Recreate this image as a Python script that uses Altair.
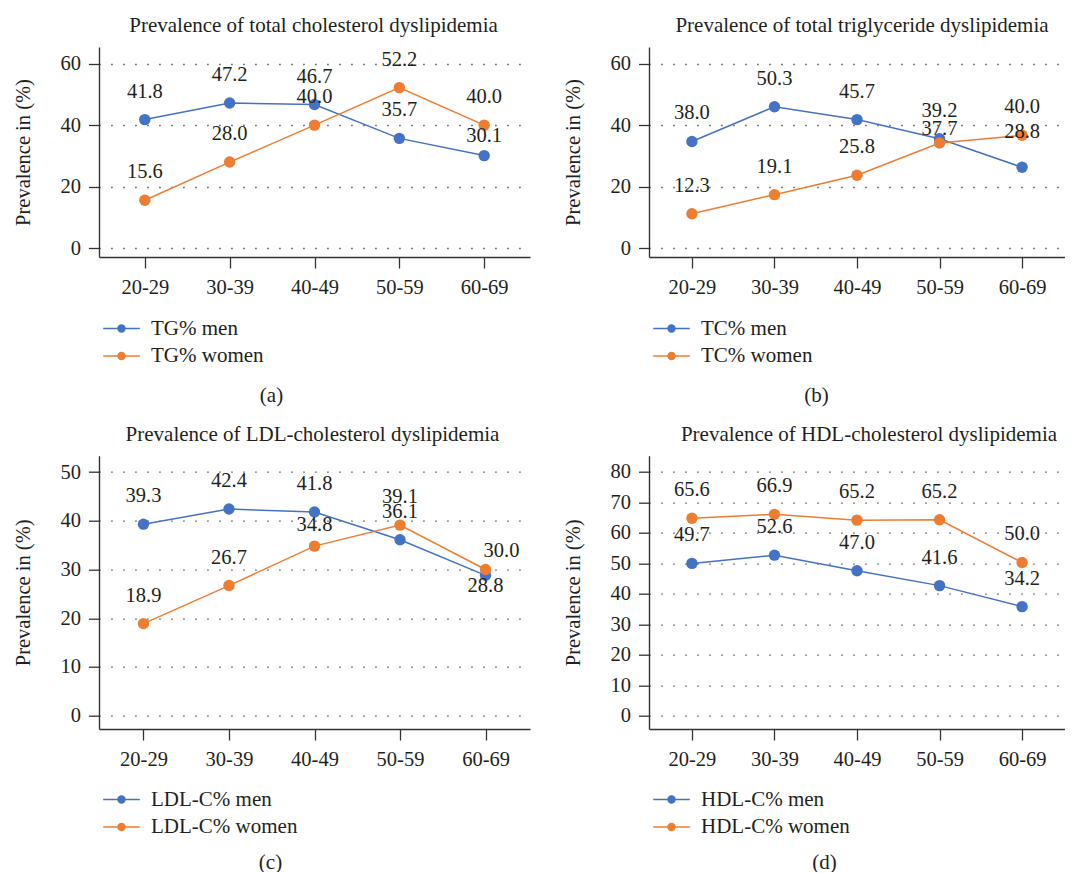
import altair as alt
import pandas as pd

# ---------------- data ----------------
AGES = ["20-29", "30-39", "40-49", "50-59", "60-69"]

TITLES = {
    "a": "Prevalence of total cholesterol dyslipidemia",
    "b": "Prevalence of total triglyceride dyslipidemia",
    "c": "Prevalence of LDL-cholesterol dyslipidemia",
    "d": "Prevalence of HDL-cholesterol dyslipidemia",
}
MEN_NAMES = {"a": "TG% men", "b": "TC% men", "c": "LDL-C% men", "d": "HDL-C% men"}
WOMEN_NAMES = {"a": "TG% women", "b": "TC% women", "c": "LDL-C% women", "d": "HDL-C% women"}
CAPTIONS = {"a": "(a)", "b": "(b)", "c": "(c)", "d": "(d)"}

# plotted values
a_men = [41.8, 47.2, 46.7, 35.7, 30.1]
a_women = [15.6, 28.0, 40.0, 52.2, 40.0]
b_men = [34.7, 46.0, 41.8, 35.6, 26.3]
b_women = [11.2, 17.4, 23.7, 34.2, 36.7]
c_men = [39.3, 42.4, 41.8, 36.1, 28.8]
c_women = [18.9, 26.7, 34.8, 39.1, 30.0]
d_men = [50.0, 52.7, 47.6, 42.7, 35.8]
d_women = [64.8, 66.1, 64.2, 64.3, 50.3]

# printed data labels
a_men_labels = ["41.8", "47.2", "46.7", "35.7", "30.1"]
a_women_labels = ["15.6", "28.0", "40.0", "52.2", "40.0"]
b_men_labels = ["38.0", "50.3", "45.7", "39.2", "28.8"]
b_women_labels = ["12.3", "19.1", "25.8", "37.7", "40.0"]
c_men_labels = ["39.3", "42.4", "41.8", "36.1", "28.8"]
c_women_labels = ["18.9", "26.7", "34.8", "39.1", "30.0"]
d_men_labels = ["49.7", "52.6", "47.0", "41.6", "34.2"]
d_women_labels = ["65.6", "66.9", "65.2", "65.2", "50.0"]

Y_TICKS = {
    "a": [0, 20, 40, 60],
    "b": [0, 20, 40, 60],
    "c": [0, 10, 20, 30, 40, 50],
    "d": [0, 10, 20, 30, 40, 50, 60, 70, 80],
}

SERIES = {
    "a": (a_men, a_women, a_men_labels, a_women_labels),
    "b": (b_men, b_women, b_men_labels, b_women_labels),
    "c": (c_men, c_women, c_men_labels, c_women_labels),
    "d": (d_men, d_women, d_men_labels, d_women_labels),
}

rows = []
for key, (men, women, ml, wl) in SERIES.items():
    for i, age in enumerate(AGES):
        rows.append(dict(panel=key, age=age, sex="men", series=MEN_NAMES[key],
                         value=men[i], label=ml[i], key=f"{key}|men|{age}"))
        rows.append(dict(panel=key, age=age, sex="women", series=WOMEN_NAMES[key],
                         value=women[i], label=wl[i], key=f"{key}|women|{age}"))
df = pd.DataFrame(rows)

# ---------------- style ----------------
SERIF = "Liberation Serif"
INK = "#231F20"
AXIS_INK = "#333333"
BLUE = "#4472C4"
ORANGE = "#ED7D31"
FS = 20.5
FS_T = 21

# geometry per panel (style only)
GEOM = {
    "a": dict(w=431, h=210, dom=[-2.86, 65.4], pad=0.54, cap=(172, 138), tdx=-1, ly=61),
    "b": dict(w=416, h=210, dom=[-2.86, 65.4], pad=0.52, cap=(167, 138), tdx=5, ly=61),
    "c": dict(w=431, h=273.3, dom=[-2.73, 53.35], pad=0.52, cap=(171, 133), tdx=-2, ly=60),
    "d": dict(w=416, h=273.3, dom=[-4.37, 85.35], pad=0.52, cap=(175, 133), tdx=12, ly=60),
}

# label nudges (dx, dy) for labels not placed straight above their point
NUDGE = {
    "a|men|60-69": (0, -20),
    "b|women|50-59": (0, -14),
    "b|men|60-69": (0, -35),
    "c|men|60-69": (0, 11),
    "c|women|60-69": (16, -18),
    "c|women|40-49": (0, -21),
}

# line + filled dot legend symbol (concentric rings fill the dot)
def ring(r):
    return f"M{r},0A{r},{r} 0 1,1 {-r},0A{r},{r} 0 1,1 {r},0"

SYMBOL = "M-2,0L2,0" + ring(0.38) + ring(0.25) + ring(0.12)


def panel(key):
    g = GEOM[key]
    d = df[df.panel == key]
    x = alt.X(
        "age:N", sort=AGES,
        scale=alt.Scale(type="point", padding=g["pad"]),
        axis=alt.Axis(
            title=CAPTIONS[key], titleX=g["cap"][0], titleY=g["cap"][1],
            titleBaseline="middle", titleAlign="center",
            titleFont=SERIF, titleFontSize=FS_T, titleFontWeight="normal", titleColor=INK,
            labelAngle=0, labelFont=SERIF, labelFontSize=FS, labelColor=INK,
            labelPadding=9, tickSize=11, tickColor=AXIS_INK, tickWidth=1.3,
            domainColor=AXIS_INK, domainWidth=1.4, grid=False,
        ),
    )
    y = alt.Y(
        "value:Q",
        scale=alt.Scale(domain=g["dom"], nice=False, zero=False),
        axis=alt.Axis(
            values=Y_TICKS[key], title="Prevalence in (%)",
            titleX=-76, titleY=g["h"] / 2, titleBaseline="middle", titleAlign="center",
            titleFont=SERIF, titleFontSize=FS, titleFontWeight="normal", titleColor=INK,
            labelFont=SERIF, labelFontSize=FS, labelColor=INK, labelPadding=8,
            tickSize=10.5, tickColor=AXIS_INK, tickWidth=1.3,
            domainColor=AXIS_INK, domainWidth=1.4,
            grid=True, gridColor="#555555", gridDash=[1.5, 10.5], gridDashOffset=0.3,
            gridWidth=1.3,
        ),
    )
    color = alt.Color(
        "series:N",
        scale=alt.Scale(domain=[MEN_NAMES[key], WOMEN_NAMES[key]], range=[BLUE, ORANGE]),
        legend=alt.Legend(
            title=None, orient="none", legendX=12, legendY=g["h"] + g["ly"],
            direction="vertical", symbolType=SYMBOL, symbolSize=335,
            symbolStrokeWidth=1.5, symbolOpacity=1,
            labelFont=SERIF, labelFontSize=FS_T, labelColor=INK,
            labelOffset=19, rowPadding=5.5, padding=0,
        ),
    )
    base = alt.Chart(d)
    line = base.mark_line(
        strokeWidth=1.5,
        point=alt.OverlayMarkDef(filled=True, size=130, opacity=1),
    ).encode(x=x, y=y, color=color, order=alt.Order("age:N"))

    nudged = [k for k in NUDGE if k.startswith(key + "|")]
    expr_main = " && ".join([f"datum.key != '{k}'" for k in nudged]) or "true"
    text_kw = dict(font=SERIF, fontSize=FS, color=INK, align="center", baseline="middle")
    layers = [line, base.mark_text(dy=-28, **text_kw).encode(x=x, y=y, text="label:N")
              .transform_filter(expr_main)]
    for k in nudged:
        dx, dy = NUDGE[k]
        layers.append(base.mark_text(dx=dx, dy=dy, **text_kw)
                      .encode(x=x, y=y, text="label:N")
                      .transform_filter(f"datum.key == '{k}'"))
    return alt.layer(*layers).properties(
        width=g["w"], height=g["h"],
        title=alt.TitleParams(TITLES[key], font=SERIF, fontSize=FS_T, fontWeight="normal",
                              color=INK, anchor="middle", dx=g["tdx"], offset=11),
    )


chart = alt.concat(
    panel("a"), panel("b"), panel("c"), panel("d"),
    columns=2, spacing={"row": 198.7, "column": 119}, bounds="flush",
).resolve_scale(color="independent", x="independent", y="independent").properties(
    padding={"left": 4, "top": 7, "right": 0, "bottom": 0},
    background="white",
).configure_view(stroke=None)

chart.save("out.html", embed_options={"renderer": "svg", "actions": False})
